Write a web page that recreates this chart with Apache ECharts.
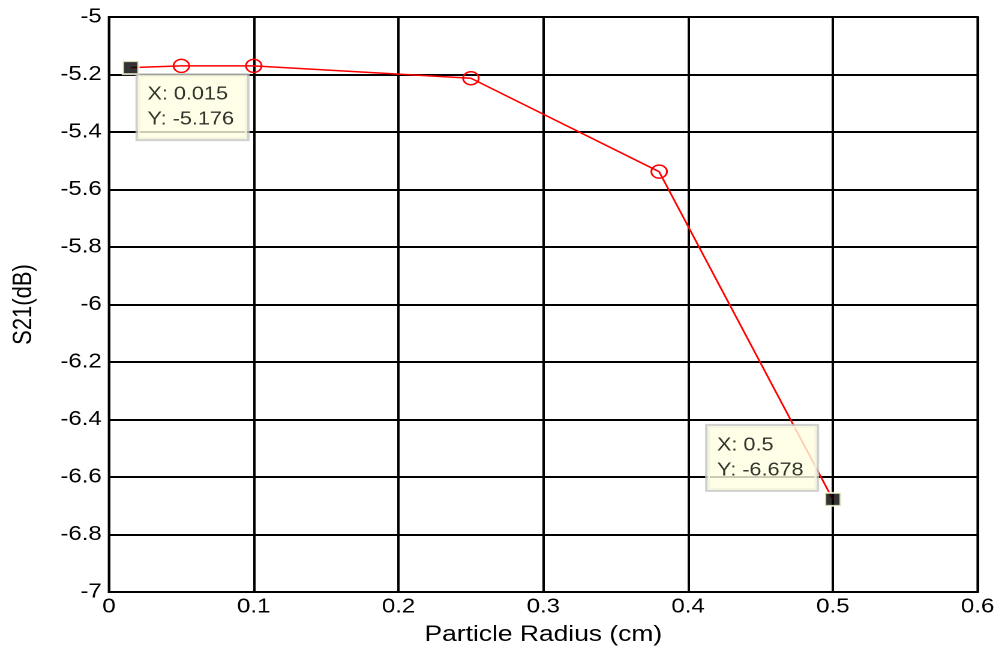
<!DOCTYPE html>
<html>
<head>
<meta charset="utf-8">
<script src="https://cdn.jsdelivr.net/npm/echarts@6/dist/echarts.min.js"></script>
<style>
  html, body { margin: 0; padding: 0; background: #fff; overflow: hidden; }
  /* The figure is drawn narrower and widened, giving the wide-glyph look */
  #chart { width: 832.5px; height: 653px; transform: scaleX(1.2); transform-origin: 0 0; }
</style>
</head>
<body>
<div id="chart"></div>
<script>
// Particle radius (cm) and measured transmission S21 (dB)
const radius = [0.015, 0.05, 0.1, 0.25, 0.38, 0.5];
const s21 = [-5.176, -5.17, -5.17, -5.213, -5.538, -6.678];

// Data-tip markers: index into the series above, with label offset
const tipIndex = [0, 5];
const tipOffset = [[13.5, 15], [-97, -66]];

const xTicks = { min: 0, max: 0.6, step: 0.1 };
const yTicks = { min: -7, max: -5, step: 0.2 };

const font = 'Liberation Sans, Arial, sans-serif';

const chart = echarts.init(document.getElementById('chart'), null, { renderer: 'canvas', devicePixelRatio: 2 });

// Points carrying a data tip show the square marker instead of a circle
const lineData = radius.map((x, i) => {
  const item = { value: [x, s21[i]] };
  if (tipIndex.includes(i)) item.symbol = 'none';
  return item;
});

const tipData = tipIndex.map((i, k) => ({
  value: [radius[i], s21[i]],
  label: { position: tipOffset[k] }
}));

chart.setOption({
  animation: false,
  backgroundColor: '#ffffff',
  grid: {
    left: 90.8, right: 18.3, top: 17, bottom: 61,
    show: true, borderColor: '#000', borderWidth: 2, backgroundColor: '#fff'
  },
  xAxis: {
    type: 'value',
    min: xTicks.min, max: xTicks.max, interval: xTicks.step,
    name: 'Particle Radius (cm)',
    nameLocation: 'middle', nameGap: 32,
    nameTextStyle: { fontFamily: font, fontSize: 22, color: '#000' },
    axisLine: { show: true, lineStyle: { color: '#000', width: 2 } },
    axisTick: { show: false },
    axisLabel: { fontFamily: font, fontSize: 20, color: '#000', margin: 5,
      formatter: v => String(Math.round(v * 10) / 10) },
    splitLine: { show: true, lineStyle: { color: '#000', width: 2 } }
  },
  yAxis: {
    type: 'value',
    min: yTicks.min, max: yTicks.max, interval: yTicks.step,
    name: 'S21(dB)',
    nameLocation: 'middle', nameGap: 60, nameRotate: 90,
    nameTextStyle: { fontFamily: font, fontSize: 22, color: '#000' },
    axisLine: { show: true, lineStyle: { color: '#000', width: 2 } },
    axisTick: { show: false },
    axisLabel: { fontFamily: font, fontSize: 20, color: '#000', margin: 6,
      formatter: v => String(Math.round(v * 10) / 10) },
    splitLine: { show: true, lineStyle: { color: '#000', width: 2 } }
  },
  series: [
    {
      type: 'line',
      data: lineData,
      lineStyle: { color: '#ff0000', width: 1.5 },
      symbol: 'circle', symbolSize: 13, showAllSymbol: true,
      itemStyle: { color: 'rgba(0,0,0,0)', borderColor: '#ff0000', borderWidth: 1.5 },
      z: 3
    },
    {
      type: 'scatter',
      data: tipData,
      symbol: 'rect', symbolSize: 13,
      itemStyle: { color: '#000', borderColor: '#ffffe1', borderWidth: 2 },
      label: {
        show: true,
        align: 'left', verticalAlign: 'top',
        fontFamily: font, fontSize: 18, color: '#000', lineHeight: 25,
        backgroundColor: '#ffffe1', borderColor: '#c4c4c4', borderWidth: 2,
        padding: [7, 11, 7, 8],
        formatter: p => 'X: ' + p.value[0] + '\nY: ' + p.value[1].toFixed(3)
      },
      z: 5
    }
  ]
});
</script>
</body>
</html>
